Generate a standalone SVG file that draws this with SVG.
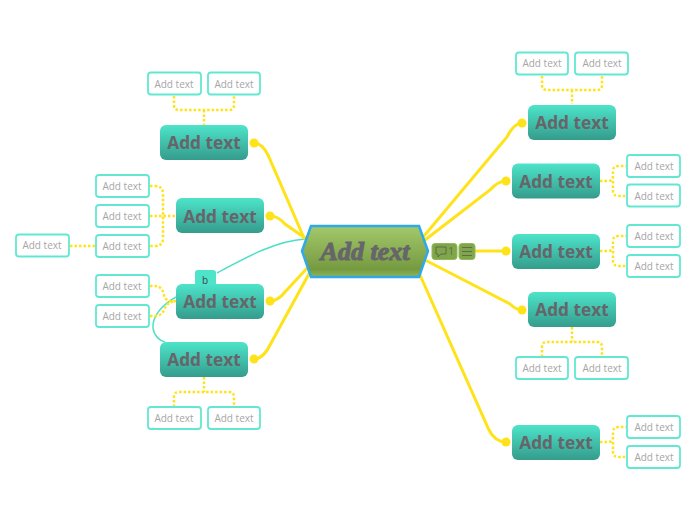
<svg xmlns="http://www.w3.org/2000/svg" width="696" height="520" viewBox="0 0 696 520">
<style>
.main{stroke:#ffe31a;stroke-width:3;fill:none;stroke-linecap:round}
.dot{stroke:#ffe31a;stroke-width:2.5;fill:none;stroke-dasharray:2.5 2}
.rel{stroke:#4de0c8;stroke-width:1.5;fill:none}
.tip{fill:#ffe31a}
.node{fill:url(#nodeGrad)}
.nt{font:bold 17.300px "Open Sans","DejaVu Sans",sans-serif;fill:#66656a;text-anchor:middle}
.leaf{fill:#fff;stroke:#62e8d2;stroke-width:1.800}
.lt{font:10px "Open Sans","DejaVu Sans",sans-serif;fill:#a6a6a6;text-anchor:middle}
.ic{fill:#7fa648;stroke:#93b95a;stroke-width:1}
</style>
<defs>
<linearGradient id="nodeGrad" x1="0" y1="0" x2="0" y2="1"><stop offset="0" stop-color="#4de4ca"/><stop offset="1" stop-color="#359c8c"/></linearGradient>
<linearGradient id="cGrad" x1="0" y1="0" x2="0" y2="1"><stop offset="0" stop-color="#a4c96c"/><stop offset="0.85" stop-color="#759a40"/><stop offset="1" stop-color="#8fb45a"/></linearGradient>
</defs>
<g id="connectors">
<path class="rel" d="M305,239 C275,241 245,258 217,273"/>
<path class="rel" d="M176,297 C160,306 152,318 153,328 C154,336 160,341 165,342"/>
<path class="main" d="M424,236 L507,137 Q514,123 522,123"/>
<path class="main" d="M425,240 L490,190 Q498,181 506,181"/>
<path class="main" d="M475,251 L506,251"/>
<path class="main" d="M427,261 L510,304 Q516,310 522,310"/>
<path class="main" d="M420,275 L489,430 Q495,442 506,442"/>
<path class="main" d="M304,238 L268,155 Q262,143 254,143"/>
<path class="main" d="M308,240 L285,224 Q278,216 270,216"/>
<path class="main" d="M310,265 L285,292 Q278,301 270,301"/>
<path class="main" d="M310,272 L270,345 Q263,359 254,359"/>
<circle class="tip" cx="522" cy="123" r="4.500"/><circle class="tip" cx="506" cy="181" r="4.500"/><circle class="tip" cx="506" cy="251" r="4.500"/><circle class="tip" cx="522" cy="310" r="4.500"/><circle class="tip" cx="506" cy="442" r="4.500"/>
<circle class="tip" cx="254" cy="143" r="4.500"/><circle class="tip" cx="270" cy="216" r="4.500"/><circle class="tip" cx="270" cy="301" r="4.500"/><circle class="tip" cx="254" cy="359" r="4.500"/>
<path class="dot" d="M542,76 V85 Q542,90 547,90 H597 Q602,90 602,85 V76 M572,90 V104"/>
<path class="dot" d="M600,181 H608 Q613,181 613,176 V171 Q613,166 619,166 H627 M613,181 V191 Q613,196 619,196 H627"/>
<path class="dot" d="M600,251 H608 Q613,251 613,246 V241 Q613,236 619,236 H627 M613,251 V261 Q613,266 619,266 H627"/>
<path class="dot" d="M600,442 H608 Q613,442 613,437 V432 Q613,427 619,427 H627 M613,442 V452 Q613,457 619,457 H627"/>
<path class="dot" d="M572,327 V342 M542,357 V347 Q542,342 547,342 H597 Q602,342 602,347 V357"/>
<path class="dot" d="M174,96 V105 Q174,110 179,110 H229 Q234,110 234,105 V96 M204,110 V125"/>
<path class="dot" d="M150,186 H155 Q163,186 163,194 V238 Q163,246 155,246 H150 M150,216 H176"/>
<path class="dot" d="M70,246 H95"/>
<path class="dot" d="M150,286 H155 Q162,286 164,295 Q166,303 176,301 M150,316 H155 Q162,316 165,308 Q167,302 176,301"/>
<path class="dot" d="M204,377 V392 M174,407 V397 Q174,392 179,392 H229 Q234,392 234,397 V407"/>
</g>
<g id="center">
<path d="M302,251 L311,226 H419 L428,251 L419,277 H311 Z" fill="url(#cGrad)" stroke="#2fa9e8" stroke-width="2.500"/>
<text x="365" y="260" style="font:italic bold 26px 'Liberation Serif','DejaVu Serif',serif;fill:#66656a;stroke:#66656a;stroke-width:1;text-anchor:middle">Add text</text>
<rect class="ic" x="432" y="243.500" width="25" height="16" rx="3"/>
<path d="M436,247 H446 V254 H441 L438,257 V254 H436 Z" fill="none" stroke="#5f6a50" stroke-width="1"/>
<text x="451" y="255" style="font:10px 'Open Sans',sans-serif;fill:#5f6a50;text-anchor:middle">1</text>
<rect class="ic" x="459" y="243.500" width="16" height="16" rx="3"/>
<path d="M462,247.500 H472 M462,251.500 H472 M462,255.500 H472" stroke="#5f6a50" stroke-width="1" fill="none"/>
</g>
<g id="tr1"><rect class="node" x="528" y="105" width="88" height="35" rx="6"/><text class="nt" x="572" y="129">Add text</text></g>
<g id="tr2"><rect class="node" x="512" y="163.500" width="88" height="35" rx="6"/><text class="nt" x="556" y="188">Add text</text></g>
<g id="tr3"><rect class="node" x="512" y="234" width="88" height="35" rx="6"/><text class="nt" x="556" y="258">Add text</text></g>
<g id="tr4"><rect class="node" x="528" y="292" width="88" height="35" rx="6"/><text class="nt" x="572" y="316">Add text</text></g>
<g id="tr5"><rect class="node" x="512" y="425" width="88" height="35" rx="6"/><text class="nt" x="556" y="449">Add text</text></g>
<g id="tl1"><rect class="node" x="160" y="125" width="88" height="35" rx="6"/><text class="nt" x="204" y="149">Add text</text></g>
<g id="tl2"><rect class="node" x="176" y="198" width="88" height="35" rx="6"/><text class="nt" x="220" y="223">Add text</text></g>
<g id="tl3"><path d="M195,285 V273 Q195,270 198,270 H213 Q216,270 216,273 V285 Z" fill="#4de4ca"/><rect class="node" x="176" y="284" width="88" height="35" rx="6"/><text x="205" y="284" style="font:10px 'Open Sans',sans-serif;fill:#444;text-anchor:middle">b</text><text class="nt" x="220" y="308">Add text</text></g>
<g id="tl4"><rect class="node" x="160" y="342" width="88" height="35" rx="6"/><text class="nt" x="204" y="366">Add text</text></g>
<g id="l1"><rect class="leaf" x="516" y="52.500" width="52" height="22" rx="3"/><text class="lt" x="542" y="67">Add text</text></g>
<g id="l2"><rect class="leaf" x="575" y="52.500" width="53" height="22" rx="3"/><text class="lt" x="602" y="67">Add text</text></g>
<g id="l3"><rect class="leaf" x="627" y="155" width="53" height="22" rx="3"/><text class="lt" x="654" y="170">Add text</text></g>
<g id="l4"><rect class="leaf" x="627" y="184.500" width="53" height="22" rx="3"/><text class="lt" x="654" y="200">Add text</text></g>
<g id="l5"><rect class="leaf" x="627" y="225" width="53" height="22" rx="3"/><text class="lt" x="654" y="240">Add text</text></g>
<g id="l6"><rect class="leaf" x="627" y="255" width="53" height="22" rx="3"/><text class="lt" x="654" y="270">Add text</text></g>
<g id="l7"><rect class="leaf" x="516" y="357" width="52" height="22" rx="3"/><text class="lt" x="542" y="372">Add text</text></g>
<g id="l8"><rect class="leaf" x="575" y="357" width="53" height="22" rx="3"/><text class="lt" x="602" y="372">Add text</text></g>
<g id="l9"><rect class="leaf" x="627" y="416" width="53" height="22" rx="3"/><text class="lt" x="654" y="431">Add text</text></g>
<g id="l10"><rect class="leaf" x="627" y="446" width="53" height="22" rx="3"/><text class="lt" x="654" y="461">Add text</text></g>
<g id="l11"><rect class="leaf" x="148" y="72.500" width="53" height="22" rx="3"/><text class="lt" x="174" y="88">Add text</text></g>
<g id="l12"><rect class="leaf" x="208" y="72.500" width="52" height="22" rx="3"/><text class="lt" x="234" y="88">Add text</text></g>
<g id="l13"><rect class="leaf" x="96" y="175" width="53" height="22" rx="3"/><text class="lt" x="122" y="190">Add text</text></g>
<g id="l14"><rect class="leaf" x="96" y="205" width="53" height="22" rx="3"/><text class="lt" x="122" y="220">Add text</text></g>
<g id="l15"><rect class="leaf" x="96" y="235" width="53" height="22" rx="3"/><text class="lt" x="122" y="250">Add text</text></g>
<g id="l16"><rect class="leaf" x="16" y="234.500" width="53" height="22" rx="3"/><text class="lt" x="42" y="249">Add text</text></g>
<g id="l17"><rect class="leaf" x="96" y="275" width="53" height="22" rx="3"/><text class="lt" x="122" y="290">Add text</text></g>
<g id="l18"><rect class="leaf" x="96" y="305" width="53" height="22" rx="3"/><text class="lt" x="122" y="320">Add text</text></g>
<g id="l19"><rect class="leaf" x="148" y="407" width="53" height="22" rx="3"/><text class="lt" x="174" y="422">Add text</text></g>
<g id="l20"><rect class="leaf" x="208" y="407" width="52" height="22" rx="3"/><text class="lt" x="234" y="422">Add text</text></g>
</svg>
